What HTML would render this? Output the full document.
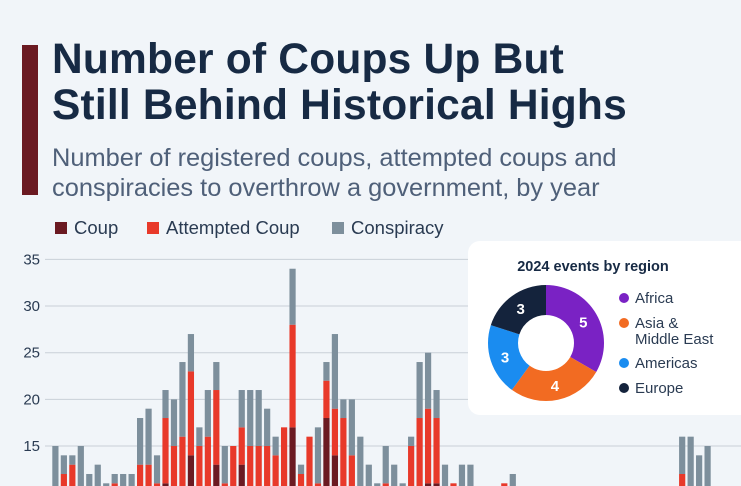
<!DOCTYPE html>
<html style="overflow:hidden"><head><meta charset="utf-8"><style>
html,body{margin:0;width:741px;height:486px;overflow:hidden}
body{background:#f1f5f9;font-family:"Liberation Sans",sans-serif;position:relative}
.abs{position:absolute}
</style></head><body>
<div class="abs" style="left:22px;top:45px;width:16px;height:150px;background:#6b1a22"></div>
<div class="abs" style="left:52px;top:37px;font-size:42.5px;font-weight:bold;color:#172a44;line-height:46px;letter-spacing:0.2px;white-space:nowrap">Number of Coups Up But<br>Still Behind Historical Highs</div>
<div class="abs" style="left:52px;top:143px;font-size:25.4px;color:#4f6079;line-height:30px;white-space:nowrap">Number of registered coups, attempted coups and<br>conspiracies to overthrow a government, by year</div>
<div class="abs" style="left:55px;top:217px;font-size:18.5px;color:#2a3b52;height:20px">
<span style="position:absolute;left:0;white-space:nowrap"><i style="display:inline-block;width:12px;height:12px;background:#6b1a22;margin-right:7px"></i>Coup</span>
<span style="position:absolute;left:92px;white-space:nowrap"><i style="display:inline-block;width:12px;height:12px;background:#e8392a;margin-right:7px"></i>Attempted Coup</span>
<span style="position:absolute;left:277px;white-space:nowrap"><i style="display:inline-block;width:12px;height:12px;background:#7d8f9c;margin-right:7px"></i>Conspiracy</span>
</div>
<svg class="abs" style="left:0;top:0;overflow:hidden" width="741" height="486" id="chart"></svg>
<div class="abs" style="left:468px;top:241px;width:273px;height:174px;background:#fff;border-radius:12px 0 0 12px"></div>
<svg class="abs" style="left:0;top:0" width="741" height="486" id="donut"></svg>
<script>
const coups=[2,3,3,2,2,2,2,2,2,2,3,3,3,11,3,4,14,4,4,13,3,4,13,4,4,4,4,4,17,3,4,3,18,14,4,4,3,2,2,2,2,2,3,3,11,11,2,2,2,2,2,2,2,2,2,2,2,2,2,2,2,2,2,2,2,2,2,2,2,2,2,2,2,2,4,3,3,3];
const attempts=[5,9,10,6,5,5,7,9,7,7,10,10,8,7,12,12,9,11,12,8,8,11,4,11,11,11,10,13,11,9,12,8,4,5,14,10,7,6,5,9,6,5,12,15,8,7,6,9,6,6,5,4,5,9,6,5,4,5,4,5,4,4,5,4,5,4,5,4,4,5,4,4,4,5,8,7,6,6];
const conspiracy=[8,2,1,7,5,6,2,1,3,3,5,6,3,3,5,8,4,2,5,3,4,0,4,6,6,4,2,0,6,1,0,6,2,8,2,6,6,5,4,4,5,4,1,6,6,3,5,0,5,5,3,3,2,0,4,3,2,3,3,2,3,2,2,3,2,3,2,3,3,2,3,3,2,2,4,6,5,6];
const yTicks=[15,20,25,30,35];
const regions=["Africa","Asia &\nMiddle East","Americas","Europe"];
const regionValues=[5,4,3,3];
const regionColors=["#7a22c4","#f26b22","#1a8cf0","#14233c"];
const NS="http://www.w3.org/2000/svg";
const svg=document.getElementById('chart');
function y(v){return 446-(v-15)*9.33;}
function x(i){return 52.3+i*8.47;}
function mk(t,a,p){const e=document.createElementNS(NS,t);for(const k in a)e.setAttribute(k,a[k]);(p||svg).appendChild(e);return e;}
yTicks.forEach(t=>{
 const g=mk('line',{x1:45,x2:741,y1:y(t),y2:y(t),stroke:'#c9d0d8','stroke-width':1});
 
 
 const l=mk('text',{x:40,y:y(t)+5,'text-anchor':'end','font-size':15,fill:'#2a3b52','font-family':'Liberation Sans, sans-serif'});
 l.textContent=t;
 
 
});
coups.forEach((c,i)=>{
 const segs=[[0,c,'#6b1a22','coup'],[c,c+attempts[i],'#e8392a','attempted'],[c+attempts[i],c+attempts[i]+conspiracy[i],'#7d8f9c','conspiracy']];
 segs.forEach(s=>{
  if(s[1]<=s[0])return;
  const r=mk('rect',{x:x(i),width:6.2,y:y(s[1]),height:y(s[0])-y(s[1])+0.01,fill:s[2]});
  
  
 });
});
const d=document.getElementById('donut');
const t=mk('text',{x:593,y:271,'text-anchor':'middle','font-size':14.5,'font-weight':'bold',fill:'#172a44','font-family':'Liberation Sans, sans-serif'},d);
t.textContent='2024 events by region';


const cx=546,cy=343,R=58,r0=28;
const tot=regionValues.reduce((a,b)=>a+b,0);
let a0=0;
regionValues.forEach((v,i)=>{
 const a1=a0+v/tot*2*Math.PI;
 const p=(a,rr)=>[cx+rr*Math.sin(a),cy-rr*Math.cos(a)];
 const [x1,y1]=p(a0,R),[x2,y2]=p(a1,R),[x3,y3]=p(a1,r0),[x4,y4]=p(a0,r0);
 const lg=(a1-a0)>Math.PI?1:0;
 const s=mk('path',{d:`M${x1},${y1}A${R},${R} 0 ${lg} 1 ${x2},${y2}L${x3},${y3}A${r0},${r0} 0 ${lg} 0 ${x4},${y4}Z`,fill:regionColors[i]},d);
 
 
 const [lx,ly]=p((a0+a1)/2,43);
 const l=mk('text',{x:lx,y:ly+6,'text-anchor':'middle','font-size':15,'font-weight':'bold',fill:'#fff','font-family':'Liberation Sans, sans-serif'},d);
 l.textContent=v;
 
 
 a0=a1;
});
const ly=[298,323,363,388];
regions.forEach((n,i)=>{
 const c=mk('circle',{cx:624,cy:ly[i],r:5,fill:regionColors[i]},d);
 
 
 const parts=n.split('\n');
 parts.forEach((p,j)=>{
  const tx=mk('text',{x:635,y:ly[i]+5+j*16,'font-size':15,fill:'#2a3b52','font-family':'Liberation Sans, sans-serif'},d);
  tx.textContent=p;
  
  
 });
});
</script>
</body></html>
